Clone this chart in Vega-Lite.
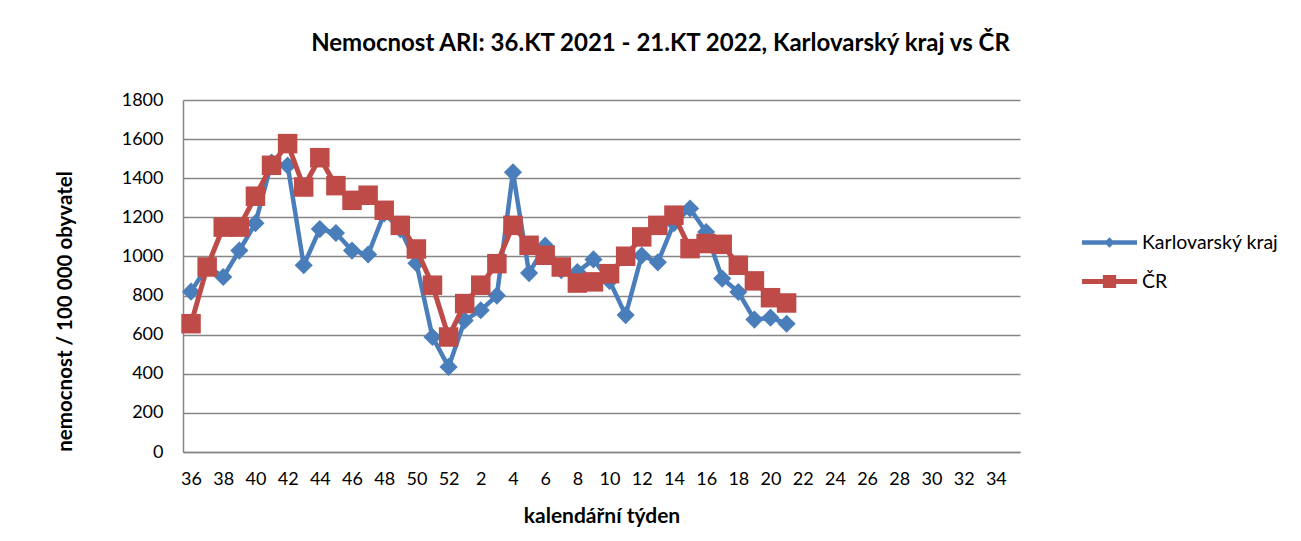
{
  "$schema": "https://vega.github.io/schema/vega-lite/v6.json",
  "width": 837,
  "height": 352,
  "autosize": {"type": "none"},
  "padding": {"left": 183, "top": 100, "right": 281, "bottom": 89},
  "background": "white",
  "config": {
    "font": "Lato",
    "view": {"stroke": null},
    "axis": {"labelFont": "Lato", "titleFont": "Lato", "labelColor": "#000", "titleColor": "#000"}
  },
  "title": {
    "text": "Nemocnost ARI: 36.KT 2021 - 21.KT 2022, Karlovarský kraj vs ČR",
    "fontSize": 24,
    "fontWeight": "bold",
    "color": "#000",
    "font": "Lato",
    "anchor": "middle",
    "dx": 59,
    "offset": 35
  },
  "data": {
    "values": [
      {"week": "36", "series": "Karlovarský kraj", "value": 820},
      {"week": "37", "series": "Karlovarský kraj", "value": 950},
      {"week": "38", "series": "Karlovarský kraj", "value": 895},
      {"week": "39", "series": "Karlovarský kraj", "value": 1030},
      {"week": "40", "series": "Karlovarský kraj", "value": 1170},
      {"week": "41", "series": "Karlovarský kraj", "value": 1480},
      {"week": "42", "series": "Karlovarský kraj", "value": 1465},
      {"week": "43", "series": "Karlovarský kraj", "value": 955},
      {"week": "44", "series": "Karlovarský kraj", "value": 1140},
      {"week": "45", "series": "Karlovarský kraj", "value": 1120},
      {"week": "46", "series": "Karlovarský kraj", "value": 1030},
      {"week": "47", "series": "Karlovarský kraj", "value": 1010},
      {"week": "48", "series": "Karlovarský kraj", "value": 1220},
      {"week": "49", "series": "Karlovarský kraj", "value": 1140},
      {"week": "50", "series": "Karlovarský kraj", "value": 965},
      {"week": "51", "series": "Karlovarský kraj", "value": 588},
      {"week": "52", "series": "Karlovarský kraj", "value": 435},
      {"week": "1", "series": "Karlovarský kraj", "value": 673},
      {"week": "2", "series": "Karlovarský kraj", "value": 725},
      {"week": "3", "series": "Karlovarský kraj", "value": 800},
      {"week": "4", "series": "Karlovarský kraj", "value": 1430},
      {"week": "5", "series": "Karlovarský kraj", "value": 915},
      {"week": "6", "series": "Karlovarský kraj", "value": 1055},
      {"week": "7", "series": "Karlovarský kraj", "value": 930},
      {"week": "8", "series": "Karlovarský kraj", "value": 920},
      {"week": "9", "series": "Karlovarský kraj", "value": 985},
      {"week": "10", "series": "Karlovarský kraj", "value": 875},
      {"week": "11", "series": "Karlovarský kraj", "value": 700},
      {"week": "12", "series": "Karlovarský kraj", "value": 1005},
      {"week": "13", "series": "Karlovarský kraj", "value": 970},
      {"week": "14", "series": "Karlovarský kraj", "value": 1170},
      {"week": "15", "series": "Karlovarský kraj", "value": 1245},
      {"week": "16", "series": "Karlovarský kraj", "value": 1125},
      {"week": "17", "series": "Karlovarský kraj", "value": 887},
      {"week": "18", "series": "Karlovarský kraj", "value": 818},
      {"week": "19", "series": "Karlovarský kraj", "value": 677},
      {"week": "20", "series": "Karlovarský kraj", "value": 687},
      {"week": "21", "series": "Karlovarský kraj", "value": 656},
      {"week": "36", "series": "ČR", "value": 656},
      {"week": "37", "series": "ČR", "value": 946},
      {"week": "38", "series": "ČR", "value": 1150},
      {"week": "39", "series": "ČR", "value": 1150},
      {"week": "40", "series": "ČR", "value": 1308},
      {"week": "41", "series": "ČR", "value": 1466},
      {"week": "42", "series": "ČR", "value": 1577},
      {"week": "43", "series": "ČR", "value": 1355},
      {"week": "44", "series": "ČR", "value": 1505},
      {"week": "45", "series": "ČR", "value": 1362},
      {"week": "46", "series": "ČR", "value": 1287},
      {"week": "47", "series": "ČR", "value": 1313},
      {"week": "48", "series": "ČR", "value": 1236},
      {"week": "49", "series": "ČR", "value": 1159},
      {"week": "50", "series": "ČR", "value": 1038},
      {"week": "51", "series": "ČR", "value": 853},
      {"week": "52", "series": "ČR", "value": 588},
      {"week": "1", "series": "ČR", "value": 759},
      {"week": "2", "series": "ČR", "value": 853},
      {"week": "3", "series": "ČR", "value": 963},
      {"week": "4", "series": "ČR", "value": 1159},
      {"week": "5", "series": "ČR", "value": 1057},
      {"week": "6", "series": "ČR", "value": 1006},
      {"week": "7", "series": "ČR", "value": 946},
      {"week": "8", "series": "ČR", "value": 864},
      {"week": "9", "series": "ČR", "value": 870},
      {"week": "10", "series": "ČR", "value": 912},
      {"week": "11", "series": "ČR", "value": 1001},
      {"week": "12", "series": "ČR", "value": 1100},
      {"week": "13", "series": "ČR", "value": 1159},
      {"week": "14", "series": "ČR", "value": 1211},
      {"week": "15", "series": "ČR", "value": 1040},
      {"week": "16", "series": "ČR", "value": 1066},
      {"week": "17", "series": "ČR", "value": 1062},
      {"week": "18", "series": "ČR", "value": 955},
      {"week": "19", "series": "ČR", "value": 875},
      {"week": "20", "series": "ČR", "value": 789},
      {"week": "21", "series": "ČR", "value": 762}
    ]
  },
  "encoding": {
    "x": {
      "field": "week",
      "type": "ordinal",
      "scale": {
        "type": "point",
        "padding": 0.5,
        "domain": ["36","37","38","39","40","41","42","43","44","45","46","47","48","49","50","51","52","1","2","3","4","5","6","7","8","9","10","11","12","13","14","15","16","17","18","19","20","21","22","23","24","25","26","27","28","29","30","31","32","33","34","35"]
      },
      "axis": {
        "title": "kalendářní týden",
        "titleFontSize": 21,
        "titleFontWeight": "bold",
        "titlePadding": 17,
        "labelAngle": 0,
        "labelFontSize": 18,
        "labelPadding": 18,
        "labelExpr": "toNumber(datum.value) % 2 == 0 ? datum.value : ''",
        "ticks": false,
        "grid": false,
        "domainColor": "#868686",
        "domainWidth": 1.5
      }
    },
    "y": {
      "field": "value",
      "type": "quantitative",
      "scale": {"domain": [0, 1800], "nice": false},
      "axis": {
        "title": "nemocnost / 100 000 obyvatel",
        "titleFontSize": 20.5,
        "titleFontWeight": "bold",
        "titleX": -118,
        "titleY": 211,
        "titleAngle": -90,
        "titleAlign": "center",
        "titleBaseline": "middle",
        "values": [0,200,400,600,800,1000,1200,1400,1600,1800],
        "format": "d",
        "labelFontSize": 18,
        "labelPadding": 20,
        "ticks": false,
        "grid": true,
        "gridColor": "#868686",
        "gridWidth": 1.5,
        "domainColor": "#868686",
        "domainWidth": 1.5
      }
    },
    "color": {
      "field": "series",
      "type": "nominal",
      "scale": {"domain": ["Karlovarský kraj", "ČR"], "range": ["#4A7EBB", "#BE4B48"]},
      "legend": null
    }
  },
  "layer": [
    {
      "transform": [{"filter": "datum.series === 'Karlovarský kraj'"}],
      "mark": {"type": "line", "strokeWidth": 4.5},
      "encoding": {
        "color": {
          "field": "series",
          "type": "nominal",
          "legend": {
            "title": null,
            "orient": "none",
            "legendX": 899,
            "legendY": 115,
            "labelFontSize": 19.5,
            "labelFont": "Lato",
            "labelColor": "#000",
            "labelOffset": 5,
            "symbolSize": 3025,
            "rowPadding": 2,
            "padding": 0,
            "symbolType": "square",
            "encode": {
              "symbols": {
                "update": {
                  "shape": {"signal": "datum.value === 'ČR' ? 'M-1,-0.09H1V0.09H-1Z M-0.24,-0.24H0.24V0.24H-0.24Z' : 'M-1,-0.08H1V0.08H-1Z M0,-0.19L0.19,0L0,0.19L-0.19,0Z'"},
                  "fill": {"signal": "datum.value === 'ČR' ? '#BE4B48' : '#4A7EBB'"},
                  "fillOpacity": {"value": 1},
                  "strokeWidth": {"value": 0},
                  "opacity": {"value": 1}
                }
              }
            }
          }
        }
      }
    },
    {
      "transform": [{"filter": "datum.series === 'Karlovarský kraj'"}],
      "mark": {"type": "point", "shape": "diamond", "filled": true, "size": 330, "opacity": 1}
    },
    {
      "transform": [{"filter": "datum.series === 'ČR'"}],
      "mark": {"type": "line", "strokeWidth": 5}
    },
    {
      "transform": [{"filter": "datum.series === 'ČR'"}],
      "mark": {"type": "point", "shape": "square", "filled": true, "size": 380, "opacity": 1}
    }
  ]
}
